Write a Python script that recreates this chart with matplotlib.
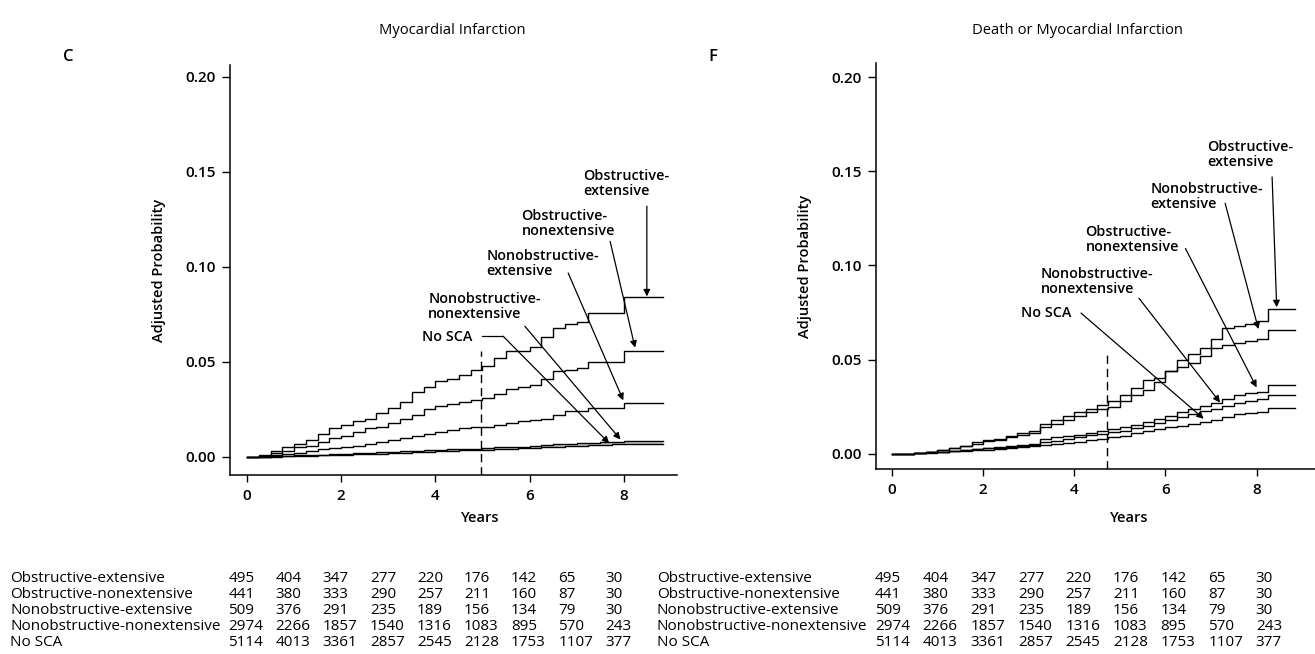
import matplotlib
matplotlib.use("Agg")
import matplotlib.pyplot as plt
import matplotlib.transforms as mtransforms
import numpy as np

plt.rcParams['font.family'] = ['Open Sans', 'DejaVu Sans']

# ---------------- data ----------------
years = [0, 0.25, 0.5, 0.75, 1.0, 1.25, 1.5, 1.75, 2.0, 2.25, 2.5, 2.75, 3.0, 3.25,
         3.5, 3.75, 4.0, 4.25, 4.5, 4.75, 5.0, 5.25, 5.5, 5.75, 6.0, 6.25, 6.5, 6.75,
         7.0, 7.25, 7.5, 7.75, 8.0, 8.25]
end_year = 8.84

groups = ["Obstructive-extensive", "Obstructive-nonextensive", "Nonobstructive-extensive",
          "Nonobstructive-nonextensive", "No SCA"]

# Panel C: Myocardial infarction
mi_obs_ext = [0, 0.001, 0.003, 0.005, 0.007, 0.009, 0.012, 0.015, 0.017, 0.019, 0.020, 0.023,
              0.026, 0.029, 0.034, 0.037, 0.040, 0.041, 0.043, 0.046, 0.048, 0.052, 0.056, 0.056,
              0.058, 0.063, 0.068, 0.070, 0.071, 0.076, 0.076, 0.076, 0.084, 0.084]
mi_obs_non = [0, 0.0005, 0.002, 0.003, 0.005, 0.006, 0.008, 0.010, 0.011, 0.013, 0.015, 0.016,
              0.018, 0.020, 0.022, 0.025, 0.027, 0.028, 0.029, 0.030, 0.031, 0.033, 0.036, 0.037,
              0.038, 0.041, 0.045, 0.046, 0.047, 0.050, 0.050, 0.050, 0.056, 0.056]
mi_non_ext = [0, 0, 0.001, 0.0015, 0.002, 0.003, 0.004, 0.0045, 0.005, 0.006, 0.007, 0.008,
              0.009, 0.010, 0.011, 0.012, 0.013, 0.014, 0.015, 0.016, 0.016, 0.017, 0.018, 0.019,
              0.0195, 0.020, 0.022, 0.024, 0.024, 0.026, 0.026, 0.026, 0.0285, 0.0285]
mi_non_non = [0, 0, 0.0003, 0.0005, 0.0008, 0.001, 0.0012, 0.0015, 0.0017, 0.002, 0.0022, 0.0025,
              0.0028, 0.003, 0.0032, 0.0035, 0.0037, 0.004, 0.0042, 0.0044, 0.0046, 0.005, 0.0053, 0.0055,
              0.006, 0.0063, 0.0066, 0.0069, 0.0072, 0.0075, 0.0077, 0.0079, 0.0085, 0.0085]
mi_no_sca = [0, 0, 0.0002, 0.0003, 0.0005, 0.0006, 0.0008, 0.001, 0.0012, 0.0014, 0.0016, 0.0018,
             0.002, 0.0022, 0.0025, 0.0027, 0.003, 0.0032, 0.0034, 0.0036, 0.0038, 0.004, 0.0043, 0.0046,
             0.0049, 0.0052, 0.0055, 0.0058, 0.006, 0.0063, 0.0065, 0.0066, 0.0068, 0.0068]

# Panel F: Death or myocardial infarction
dm_obs_ext = [0, 0, 0.0005, 0.001, 0.002, 0.003, 0.004, 0.006, 0.0075, 0.008, 0.0095, 0.011,
              0.012, 0.016, 0.018, 0.020, 0.022, 0.024, 0.026, 0.028, 0.031, 0.035, 0.039, 0.040,
              0.044, 0.050, 0.053, 0.056, 0.061, 0.067, 0.068, 0.069, 0.0705, 0.0768]
dm_non_ext = [0, 0, 0.0005, 0.001, 0.002, 0.003, 0.004, 0.005, 0.007, 0.0075, 0.009, 0.010,
              0.011, 0.014, 0.016, 0.018, 0.020, 0.022, 0.024, 0.025, 0.028, 0.031, 0.034, 0.038,
              0.044, 0.046, 0.048, 0.052, 0.056, 0.058, 0.059, 0.060, 0.061, 0.0655]
dm_obs_non = [0, 0, 0.0005, 0.0008, 0.001, 0.0015, 0.002, 0.0025, 0.003, 0.0035, 0.004, 0.0045,
              0.005, 0.008, 0.009, 0.0095, 0.010, 0.011, 0.012, 0.013, 0.014, 0.0155, 0.017, 0.0185,
              0.020, 0.022, 0.024, 0.0255, 0.027, 0.029, 0.031, 0.032, 0.033, 0.0365]
dm_non_non = [0, 0, 0.0005, 0.0008, 0.001, 0.0015, 0.002, 0.0025, 0.003, 0.0032, 0.0035, 0.004,
              0.0045, 0.006, 0.007, 0.008, 0.009, 0.0098, 0.0105, 0.0113, 0.012, 0.0135, 0.015, 0.0165,
              0.018, 0.0195, 0.021, 0.0225, 0.024, 0.0255, 0.027, 0.028, 0.029, 0.0313]
dm_no_sca = [0, 0, 0.0003, 0.0006, 0.001, 0.0012, 0.0015, 0.0018, 0.002, 0.0025, 0.003, 0.0035,
             0.004, 0.0045, 0.005, 0.0058, 0.0065, 0.0072, 0.008, 0.0088, 0.0095, 0.011, 0.012, 0.013,
             0.014, 0.015, 0.016, 0.017, 0.018, 0.0195, 0.021, 0.0215, 0.022, 0.0242]

# Numbers at risk (same in both panels)
at_risk = {
    "Obstructive-extensive":       [495, 404, 347, 277, 220, 176, 142, 65, 30],
    "Obstructive-nonextensive":    [441, 380, 333, 290, 257, 211, 160, 87, 30],
    "Nonobstructive-extensive":    [509, 376, 291, 235, 189, 156, 134, 79, 30],
    "Nonobstructive-nonextensive": [2974, 2266, 1857, 1540, 1316, 1083, 895, 570, 243],
    "No SCA":                      [5114, 4013, 3361, 2857, 2545, 2128, 1753, 1107, 377],
}

panel_titles = ["Myocardial Infarction", "Death or Myocardial Infarction"]
panel_letters = ["C", "F"]
x_ticks = [0, 2, 4, 6, 8]
y_ticks = [0.00, 0.05, 0.10, 0.15, 0.20]
landmark_year = [4.97, 4.71]

# ---------------- figure ----------------
W, H = 1315, 654
fig = plt.figure(figsize=(W / 100, H / 100), dpi=100)

def fx(px):
    return px / W

def fy(py):
    return 1 - py / H

# axes rectangles in pixels: left, right, top, bottom
rects = [(230, 677, 65, 475), (876, 1315, 63, 469)]
xlims = [(-0.36, 9.13), (-0.344, 9.28)]
ylims = [(-0.0095, 0.2063), (-0.0081, 0.2075)]
years_label_x = [4.95, 5.2]
dash_top = [0.0556, 0.0543]

series_c = [mi_obs_ext, mi_obs_non, mi_non_ext, mi_non_non, mi_no_sca]
series_f = [dm_obs_ext, dm_obs_non, dm_non_ext, dm_non_non, dm_no_sca]

# label text (left-aligned), text position (x, y center) and arrow (start -> end)
labels_c = [
    ("Obstructive-\nextensive", (7.14, 0.144), (8.49, 0.132), (8.49, 0.0845)),
    ("Obstructive-\nnonextensive", (5.83, 0.123), (7.71, 0.1135), (8.24, 0.0575)),
    ("Nonobstructive-\nextensive", (5.09, 0.102), (6.82, 0.0968), (7.99, 0.0298)),
    ("Nonobstructive-\nnonextensive", (3.85, 0.0793), (5.90, 0.0688), (7.93, 0.0092)),
    ("No SCA", (3.71, 0.0632), None, None),
]
labels_f = [
    ("Obstructive-\nextensive", (6.91, 0.1587), (8.34, 0.147), (8.44, 0.0778)),
    ("Nonobstructive-\nextensive", (5.67, 0.1366), (7.31, 0.133), (8.04, 0.0662)),
    ("Obstructive-\nnonextensive", (4.25, 0.1136), (6.44, 0.109), (8.00, 0.0352)),
    ("Nonobstructive-\nnonextensive", (3.27, 0.0915), (5.42, 0.0826), (7.20, 0.0272)),
    ("No SCA", (2.84, 0.0750), (4.15, 0.0747), (6.84, 0.0186)),
]

lw_curve = 1.0
ann_fs = 10.4
tick_fs = 11
lab_fs = 10.5
tab_fs = 11

for i in range(2):
    l, r, t, b = rects[i]
    ax = fig.add_axes([fx(l), fy(b), fx(r - l), (b - t) / H])
    ax.set_xlim(*xlims[i])
    ax.set_ylim(*ylims[i])
    for s in ["top", "right"]:
        ax.spines[s].set_visible(False)
    for s in ["left", "bottom"]:
        ax.spines[s].set_linewidth(1.1)
    ax.set_xticks(x_ticks)
    ax.set_xticklabels([str(v) for v in x_ticks], fontsize=tick_fs, fontweight="semibold")
    ax.set_yticks(y_ticks)
    ax.set_yticklabels([f"{v:.2f}" for v in y_ticks], fontsize=tick_fs, fontweight="semibold")
    ax.tick_params(axis="x", direction="out", length=5, width=1.0, pad=5)
    ax.tick_params(axis="y", direction="out", length=6, width=1.0, pad=4)
    ax.set_ylabel("Adjusted Probability", fontsize=lab_fs, fontweight="semibold", labelpad=14)

    trans = mtransforms.blended_transform_factory(ax.transData, fig.transFigure)
    ax.text(years_label_x[i], fy(518), "Years", transform=trans, ha="center", va="center",
            fontsize=lab_fs, fontweight="semibold")

    series = series_c if i == 0 else series_f
    t_ext = years + [end_year]
    if i == 0:
        lo = np.array(mi_no_sca + [mi_no_sca[-1]])
        hi = np.array(mi_non_non + [mi_non_non[-1]])
        ax.fill_between(t_ext, lo, hi, step="post", color="#c4c4c4", lw=0)
    for v in series:
        ax.step(t_ext, v + [v[-1]], where="post", color="black", lw=lw_curve)

    # landmark dashed line
    ax.plot([landmark_year[i], landmark_year[i]], [ylims[i][0], dash_top[i]], color="black",
            lw=1.0, dashes=(6, 3.5))

    labels = labels_c if i == 0 else labels_f
    for txt, tpos, a0, a1 in labels:
        ax.text(tpos[0], tpos[1], txt, ha="left", va="center", fontsize=ann_fs,
                fontweight="semibold", linespacing=1.1)
        if a0 is not None:
            ax.annotate("", xy=a1, xytext=a0,
                        arrowprops=dict(arrowstyle="-|>", color="black", lw=0.9,
                                        mutation_scale=10, shrinkA=0, shrinkB=0))
    if i == 0:
        # "No SCA" leader with an elbow
        ax.plot([4.98, 5.44], [0.0635, 0.0635], color="black", lw=0.9)
        ax.annotate("", xy=(7.69, 0.0072), xytext=(5.44, 0.0635),
                    arrowprops=dict(arrowstyle="-|>", color="black", lw=0.9,
                                    mutation_scale=10, shrinkA=0, shrinkB=0))

# titles and panel letters
fig.text(fx(452), fy(30), panel_titles[0], ha="center", va="center", fontsize=10.6)
fig.text(fx(1077), fy(30), panel_titles[1], ha="center", va="center", fontsize=10.6)
fig.text(fx(68), fy(57), panel_letters[0], ha="center", va="center", fontsize=12, fontweight="semibold")
fig.text(fx(713), fy(57), panel_letters[1], ha="center", va="center", fontsize=12, fontweight="semibold")

# numbers-at-risk tables
row_y = [578, 594, 610, 626, 643]
tables = [(10, 228.5, 47.1), (657, 875, 47.6)]
for lx, nx0, dx in tables:
    for j, g in enumerate(groups):
        fig.text(fx(lx), fy(row_y[j]), g, ha="left", va="center", fontsize=tab_fs)
        for k, n in enumerate(at_risk[g]):
            fig.text(fx(nx0 + k * dx), fy(row_y[j]), str(n), ha="left", va="center", fontsize=tab_fs)

fig.savefig("out.png", dpi=100)
